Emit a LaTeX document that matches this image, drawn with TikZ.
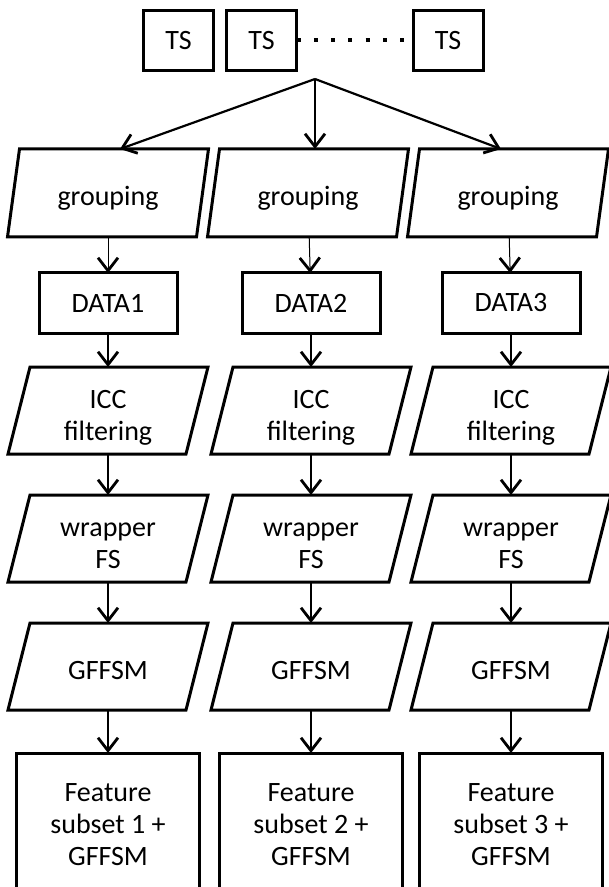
\documentclass[tikz,border=0pt]{standalone}
\usepackage{fontspec}
\setmainfont{Carlito}
\usepackage{tikz}
\usetikzlibrary{arrows.meta,positioning}

\begin{document}
\begin{tikzpicture}[
  x=0.5pt, y=-0.5pt,
  node distance=18pt and 6.5pt,
  font=\fontsize{14}{16}\selectfont,
  every node/.append style={outer sep=0pt},
  tsbox/.style={draw,line width=1.5pt,minimum width=35pt,minimum height=30pt,inner sep=0pt},
  databox/.style={draw,line width=1.5pt,minimum width=69pt,minimum height=30pt,inner sep=0pt},
  resbox/.style={draw,line width=1.5pt,minimum width=91.5pt,minimum height=72pt,align=center,inner sep=0pt},
  slantbox/.style={minimum width=89pt,minimum height=43.5pt,inner sep=0pt,align=center,
    text height=13pt,text depth=-2pt,
    append after command={\pgfextra{\let\pnode\tikzlastnode
      \draw[line width=1.5pt] ([xshift=#1]\pnode.north west) -- ([xshift=#1]\pnode.north east)
        -- ([xshift=-#1]\pnode.south east) -- ([xshift=-#1]\pnode.south west) -- cycle;}}},
  slantbox/.default=5.5pt,
  twolines/.style={text height=30pt},
  grpbox/.style={slantbox=3pt,minimum width=94.5pt,minimum height=44pt,text height=13pt},
  arr/.style={-{Straight Barb[length=6.5pt,width=10pt,line width=1.4pt]},line width=1.1pt},
  thinarr/.style={arr,line width=0.5pt}
]
\clip (0,0) rectangle (609,887);
% time series on top
\node[tsbox] (ts1) at (178.5,40.5) {TS};
\node[tsbox,right=of ts1] (ts2) {TS};
\node[tsbox] (ts3) at (448,40.5) {TS};
\draw[line width=2pt,dash pattern=on 2pt off 6.65pt] (ts2.east) -- (ts3.west);
\coordinate (fan) at (315,79);
% first column
\node[grpbox] (grp1) at (108,193) {grouping};
\node[databox,below=of grp1] (data1) {DATA1};
\node[slantbox,twolines,below=17pt of data1] (icc1) {ICC\\filtering};
\node[slantbox,twolines,below=20.5pt of icc1] (wfs1) {wrapper\\FS};
\node[slantbox,below=20.5pt of wfs1] (gff1) {GFFSM};
\node[resbox,below=21.5pt of gff1] (res1) {Feature\\subset 1 +\\GFFSM};
% second column
\node[grpbox] (grp2) at (308,193) {grouping};
\node[databox,below=of grp2,xshift=1.5pt] (data2) {DATA2};
\node[slantbox,twolines,below=17pt of data2] (icc2) {ICC\\filtering};
\node[slantbox,twolines,below=20.5pt of icc2] (wfs2) {wrapper\\FS};
\node[slantbox,below=20.5pt of wfs2] (gff2) {GFFSM};
\node[resbox,below=21.5pt of gff2] (res2) {Feature\\subset 2 +\\GFFSM};
% third column
\node[grpbox] (grp3) at (508,193) {grouping};
\node[databox,below=of grp3,xshift=1.5pt] (data3) {DATA3};
\node[slantbox,twolines,below=17pt of data3] (icc3) {ICC\\filtering};
\node[slantbox,twolines,below=20.5pt of icc3] (wfs3) {wrapper\\FS};
\node[slantbox,below=20.5pt of wfs3] (gff3) {GFFSM};
\node[resbox,below=21.5pt of gff3] (res3) {Feature\\subset 3 +\\GFFSM};
% arrows
\draw[arr] (fan) -- ([xshift=6pt]grp1.north);
\draw[arr] (fan) -- ([xshift=3.5pt]grp2.north);
\draw[arr] (fan) -- ([xshift=-3.5pt]grp3.north);
\draw[thinarr] (grp1) -- (data1);
\draw[thinarr] (grp2) -- (data2);
\draw[thinarr] (grp3) -- (data3);
\draw[arr] (data1) -- (icc1);
\draw[arr] (data2) -- (icc2);
\draw[arr] (data3) -- (icc3);
\draw[arr] (icc1) -- (wfs1);
\draw[arr] (icc2) -- (wfs2);
\draw[arr] (icc3) -- (wfs3);
\draw[arr] (wfs1) -- (gff1);
\draw[arr] (wfs2) -- (gff2);
\draw[arr] (wfs3) -- (gff3);
\draw[arr] (gff1) -- (res1);
\draw[arr] (gff2) -- (res2);
\draw[arr] (gff3) -- (res3);
\end{tikzpicture}
\end{document}
